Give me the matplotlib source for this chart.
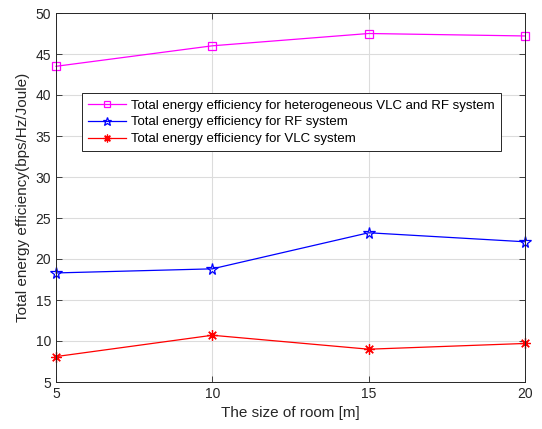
import numpy as np
import matplotlib.pyplot as plt
from matplotlib import rcParams

rcParams['font.family'] = ['Liberation Sans', 'DejaVu Sans']
rcParams['font.size'] = 10

# room size and energy efficiency per system
room_size = [5, 10, 15, 20]
ee_hetero = [43.5, 46.0, 47.5, 47.2]
ee_rf = [18.3, 18.8, 23.2, 22.1]
ee_vlc = [8.1, 10.7, 9.0, 9.7]

labels = ['Total energy efficiency for heterogeneous VLC and RF system',
          'Total energy efficiency for RF system',
          'Total energy efficiency for VLC system']

fig = plt.figure(figsize=(5.42, 4.29), dpi=100)
ax = fig.add_axes([56/542, 1-382/429, 469/542, 369/429])

ax.plot(room_size, ee_hetero, color='#ff00ff', lw=0.9, marker='s', ms=6,
        mfc='none', mew=0.9, label=labels[0], clip_on=False, zorder=3)
ax.plot(room_size, ee_rf, color='#0000ff', lw=0.9, marker='*', ms=8.5,
        mfc='none', mew=0.9, label=labels[1], clip_on=False, zorder=3)
ax.plot(room_size, ee_vlc, color='#ff0000', lw=0.9, marker=(8, 2, 0), ms=7.5,
        mew=0.9, label=labels[2], clip_on=False, zorder=3)

ax.set_xlim(5, 20)
ax.set_ylim(5, 50)
ax.set_xticks([5, 10, 15, 20])
ax.set_yticks(np.arange(5, 51, 5))
ax.grid(True, color='#dcdcdc', lw=0.8)
ax.set_axisbelow(True)
ax.tick_params(direction='in', top=True, right=True, length=4, colors='#262626',
               labelsize=10, width=0.6)
for s in ax.spines.values():
    s.set_color('#262626')
    s.set_linewidth(0.7)
    s.set_zorder(4)

ax.set_xlabel('The size of room [m]', color='#262626', fontsize=11)
ax.set_ylabel('Total energy efficiency(bps/Hz/Joule)', color='#262626', fontsize=11)

leg = ax.legend(loc='upper left', bbox_to_anchor=(0.055, 0.782), fancybox=False,
                edgecolor='#262626', framealpha=1, fontsize=9.5, handlelength=2.9,
                borderpad=0.45, labelspacing=0.35, handletextpad=0.4,
                markerscale=0.75, borderaxespad=0)
leg.get_frame().set_linewidth(0.7)
leg.set_zorder(5)

fig.savefig('out.png', dpi=100)
